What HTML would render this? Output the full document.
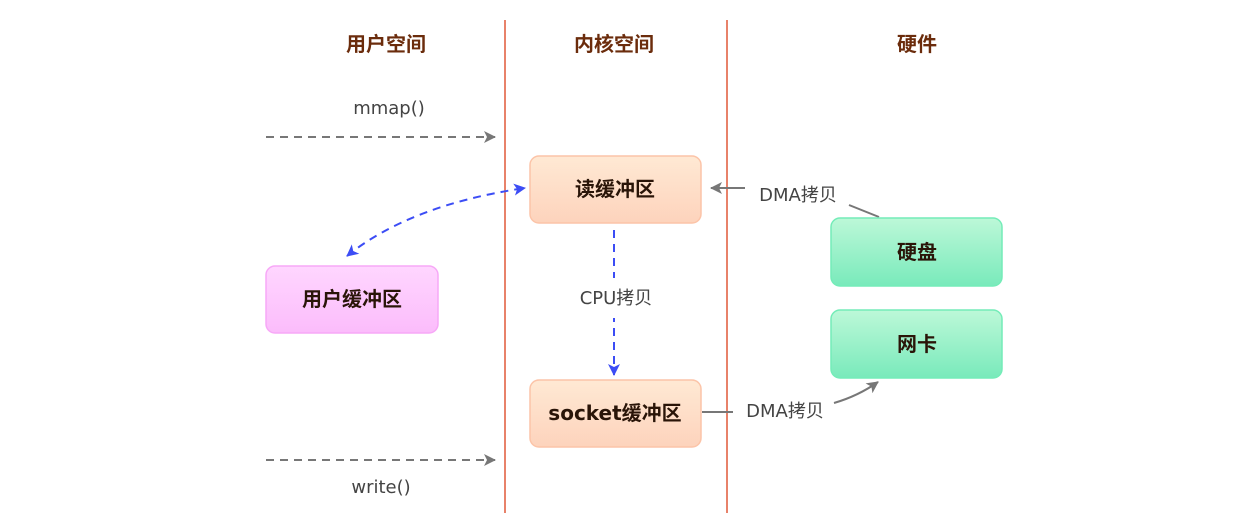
<!DOCTYPE html>
<html><head><meta charset="utf-8"><style>
html,body{margin:0;padding:0;background:#fff;}
svg{display:block;font-family:"DejaVu Sans","Noto Sans CJK SC",sans-serif;}
</style></head><body>
<svg width="1253" height="527" viewBox="0 0 1253 527">
<defs>
<linearGradient id="o" x1="0" y1="0" x2="0" y2="1"><stop offset="0" stop-color="#ffe9d4"/><stop offset="1" stop-color="#fdd3bc"/></linearGradient>
<linearGradient id="p" x1="0" y1="0" x2="0" y2="1"><stop offset="0" stop-color="#ffd6ff"/><stop offset="1" stop-color="#fbbcfb"/></linearGradient>
<linearGradient id="g" x1="0" y1="0" x2="0" y2="1"><stop offset="0" stop-color="#bdf8d8"/><stop offset="1" stop-color="#79eabb"/></linearGradient>
<marker id="ag" markerWidth="14" markerHeight="14" refX="11" refY="6" orient="auto" markerUnits="userSpaceOnUse"><path d="M0,0 L12,6 L0,12 L3,6z" fill="#777"/></marker>
<marker id="ab" markerWidth="14" markerHeight="14" refX="11" refY="6" orient="auto" markerUnits="userSpaceOnUse"><path d="M0,0 L12,6 L0,12 L3,6z" fill="#3c4df5"/></marker>
<marker id="abs" markerWidth="14" markerHeight="14" refX="1" refY="6" orient="auto" markerUnits="userSpaceOnUse"><path d="M12,0 L0,6 L12,12 L9,6z" fill="#3c4df5"/></marker>
</defs>
<g font-size="20" font-weight="bold" fill="#6b2c0c" text-anchor="middle">
<text x="386" y="51">用户空间</text><text x="614" y="51">内核空间</text><text x="917" y="51">硬件</text>
</g>
<line x1="505" y1="20" x2="505" y2="513" stroke="#e8826a" stroke-width="2"/>
<line x1="727" y1="20" x2="727" y2="513" stroke="#e8826a" stroke-width="2"/>
<line x1="266" y1="137" x2="495" y2="137" stroke="#777" stroke-width="2" stroke-dasharray="8,6" marker-end="url(#ag)"/>
<line x1="266" y1="460" x2="495" y2="460" stroke="#777" stroke-width="2" stroke-dasharray="8,6" marker-end="url(#ag)"/>
<path d="M347,256 Q410,205 525,188" fill="none" stroke="#3c4df5" stroke-width="2" stroke-dasharray="8,6" marker-end="url(#ab)" marker-start="url(#abs)"/>
<line x1="614" y1="230" x2="614" y2="375" stroke="#3c4df5" stroke-width="2" stroke-dasharray="8,6" marker-end="url(#ab)"/>
<rect x="570" y="278" width="92" height="40" fill="#fff"/>
<line x1="745" y1="188" x2="711" y2="188" stroke="#777" stroke-width="2" marker-end="url(#ag)"/>
<line x1="849" y1="205" x2="879" y2="217" stroke="#777" stroke-width="2"/>
<line x1="702" y1="412" x2="733" y2="412" stroke="#777" stroke-width="2"/>
<path d="M834,403 Q858,396 878,382" fill="none" stroke="#777" stroke-width="2" marker-end="url(#ag)"/>
<g font-size="18" fill="#444" text-anchor="middle">
<text x="389" y="114">mmap()</text><text x="381" y="493">write()</text>
<text x="616" y="304">CPU拷贝</text>
<text x="798" y="201">DMA拷贝</text><text x="785" y="417">DMA拷贝</text>
</g>
<rect x="530" y="156" width="171" height="67" rx="9" fill="url(#o)" stroke="#fcc4a8" stroke-width="1.5"/>
<rect x="530" y="380" width="171" height="67" rx="9" fill="url(#o)" stroke="#fcc4a8" stroke-width="1.5"/>
<rect x="266" y="266" width="172" height="67" rx="9" fill="url(#p)" stroke="#f7a8f7" stroke-width="1.5"/>
<rect x="831" y="218" width="171" height="68" rx="9" fill="url(#g)" stroke="#74ecb8" stroke-width="1.5"/>
<rect x="831" y="310" width="171" height="68" rx="9" fill="url(#g)" stroke="#74ecb8" stroke-width="1.5"/>
<g font-size="20" font-weight="bold" fill="#2a1508" text-anchor="middle">
<text x="615" y="196">读缓冲区</text><text x="615" y="420">socket缓冲区</text>
<text x="352" y="306">用户缓冲区</text>
<text x="917" y="259">硬盘</text><text x="917" y="351">网卡</text>
</g>
</svg>
</body></html>
